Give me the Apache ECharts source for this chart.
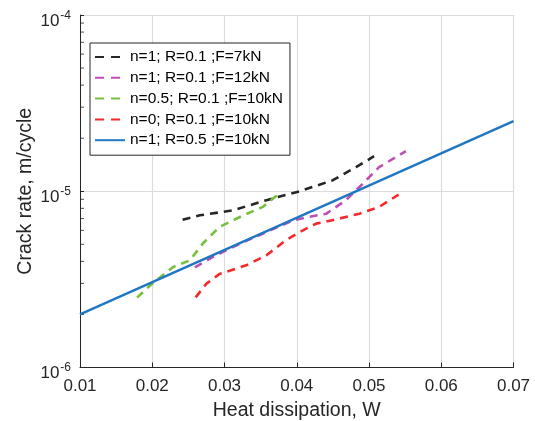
<!DOCTYPE html>
<html>
<head>
<meta charset="utf-8">
<script src="https://cdn.jsdelivr.net/npm/echarts@6/dist/echarts.min.js"></script>
<style>html,body{margin:0;padding:0;background:#fff}#c{width:535px;height:421px}</style>
</head>
<body>
<div id="c"></div>
<script>
// ---- data ----
var seriesNames = ['n=1; R=0.1 ;F=7kN', 'n=1; R=0.1 ;F=12kN', 'n=0.5; R=0.1 ;F=10kN', 'n=0; R=0.1 ;F=10kN', 'n=1; R=0.5 ;F=10kN'];
var black7kN = [[0.0242,6.9e-6],[0.0266,7.3e-6],[0.0312,7.8e-6],[0.0358,8.9e-6],[0.0404,1.0e-5],[0.0450,1.155e-5],[0.0482,1.37e-5],[0.0507,1.58e-5]];
var magenta12kN = [[0.0259,3.7e-6],[0.0284,4.24e-6],[0.0321,5.04e-6],[0.0358,5.87e-6],[0.0395,6.84e-6],[0.0413,7.1e-6],[0.0441,7.46e-6],[0.0468,8.9e-6],[0.0491,1.1e-5],[0.0514,1.37e-5],[0.0551,1.69e-5]];
var greenN05 = [[0.0179,2.49e-6],[0.0197,2.92e-6],[0.0229,3.72e-6],[0.0252,4.05e-6],[0.0270,5.05e-6],[0.0293,6.27e-6],[0.0326,7.3e-6],[0.0353,8.15e-6],[0.0373,9.5e-6]];
var redN0 = [[0.0260,2.5e-6],[0.0275,2.99e-6],[0.0293,3.39e-6],[0.0330,3.8e-6],[0.0358,4.33e-6],[0.0385,5.27e-6],[0.0404,5.87e-6],[0.0427,6.55e-6],[0.0459,7.0e-6],[0.0487,7.46e-6],[0.0514,8.15e-6],[0.0541,9.57e-6]];
var blueFit = [[0.01,2.0e-6],[0.07,2.5e-5]];
var xTicks = [0.01,0.02,0.03,0.04,0.05,0.06,0.07];
var yMinorTicks = [2e-6,3e-6,4e-6,5e-6,6e-6,7e-6,8e-6,9e-6,2e-5,3e-5,4e-5,5e-5,6e-5,7e-5,8e-5,9e-5];

var FONT = '"Liberation Sans", Arial, Helvetica, sans-serif';
var TXT = '#262626';
var colors = ['#262626', '#bd4fb6', '#77bf3f', '#f5282b', '#1f77c4'];
var dash = [8, 6];

var chart = echarts.init(document.getElementById('c'), null, {renderer: 'canvas'});

function dataSeries(i, data, dashed) {
  return {
    name: seriesNames[i], type: 'line', data: data, symbol: 'none', smooth: false,
    z: 5 + i,
    lineStyle: {color: colors[i], width: dashed ? 2.6 : 2.4, type: dashed ? dash : 'solid'},
    itemStyle: {color: colors[i]}
  };
}

var legendData = seriesNames.map(function (n, i) {
  return i < 4 ? {name: n, lineStyle: {type: [9, 7]}} : {name: n};
});

var option = {
  animation: false,
  backgroundColor: '#fff',
  textStyle: {fontFamily: FONT},
  grid: {left: 80, right: 21.5, top: 15, bottom: 53.5, containLabel: false, outerBoundsMode: 'none'},
  legend: {
    data: legendData,
    orient: 'vertical', left: 90, top: 43,
    padding: [6, 7, 7, 4], itemGap: 4.8,
    itemWidth: 30, itemHeight: 15,
    borderColor: '#262626', borderWidth: 1, borderRadius: 0,
    backgroundColor: '#fff', z: 20,
    itemStyle: {opacity: 0, borderWidth: 0},
    textStyle: {fontFamily: FONT, fontSize: 15.5, color: '#000'}
  },
  xAxis: {
    type: 'value', min: xTicks[0], max: xTicks[xTicks.length - 1], interval: 0.01,
    name: 'Heat dissipation, W', nameLocation: 'middle', nameGap: 33, nameMoveOverlap: false,
    nameTextStyle: {fontFamily: FONT, fontSize: 19.5, color: TXT},
    axisLine: {show: true, lineStyle: {color: TXT, width: 1}},
    axisTick: {show: true, inside: true, length: 5, lineStyle: {color: TXT}},
    axisLabel: {fontFamily: FONT, fontSize: 17, color: TXT, margin: 10,
      formatter: function (v) { return v.toFixed(2); }},
    splitLine: {show: true, lineStyle: {color: '#dcdcdc', width: 1.2}}
  },
  yAxis: {
    type: 'log', logBase: 10, min: 1e-6, max: 1e-4,
    name: 'Crack rate, m/cycle', nameLocation: 'middle', nameGap: 44, nameMoveOverlap: false,
    nameTextStyle: {fontFamily: FONT, fontSize: 19.5, color: TXT},
    axisLine: {show: true, lineStyle: {color: TXT, width: 1}},
    axisTick: {show: true, inside: true, length: 4, lineStyle: {color: TXT}},
    axisLabel: {
      margin: 9,
      formatter: function (v) {
        var e = Math.round(Math.log10(v));
        return '{b|10}{s|' + e + '}';
      },
      rich: {
        b: {fontFamily: FONT, fontSize: 17, color: TXT, padding: [12, 0, 0, 0]},
        s: {fontFamily: FONT, fontSize: 12, color: TXT, verticalAlign: 'top', padding: [9, 0, 0, 1]}
      }
    },
    splitLine: {show: true, lineStyle: {color: '#dcdcdc', width: 1.2}}
  },
  series: [
    {
      name: 'minorGrid', type: 'line', data: [[0.01, 1e-6]], symbol: 'none', silent: true, z: 1,
      lineStyle: {width: 0},
      markLine: {
        silent: true, symbol: ['none', 'none'], animation: false,
        label: {show: false},
        lineStyle: {color: '#c8c8c8', type: [1, 3], width: 1},
        data: yMinorTicks.map(function (v) { return {yAxis: v}; })
      }
    },
    {
      name: 'minorTicks', type: 'scatter', silent: true, z: 3,
      symbol: 'rect', symbolSize: [4, 1], symbolOffset: [2, 0],
      itemStyle: {color: TXT},
      data: yMinorTicks.map(function (v) { return [xTicks[0], v]; })
    },
    dataSeries(0, black7kN, true),
    dataSeries(1, magenta12kN, true),
    dataSeries(2, greenN05, true),
    dataSeries(3, redN0, true),
    dataSeries(4, blueFit, false)
  ]
};
chart.setOption(option);
</script>
</body>
</html>
